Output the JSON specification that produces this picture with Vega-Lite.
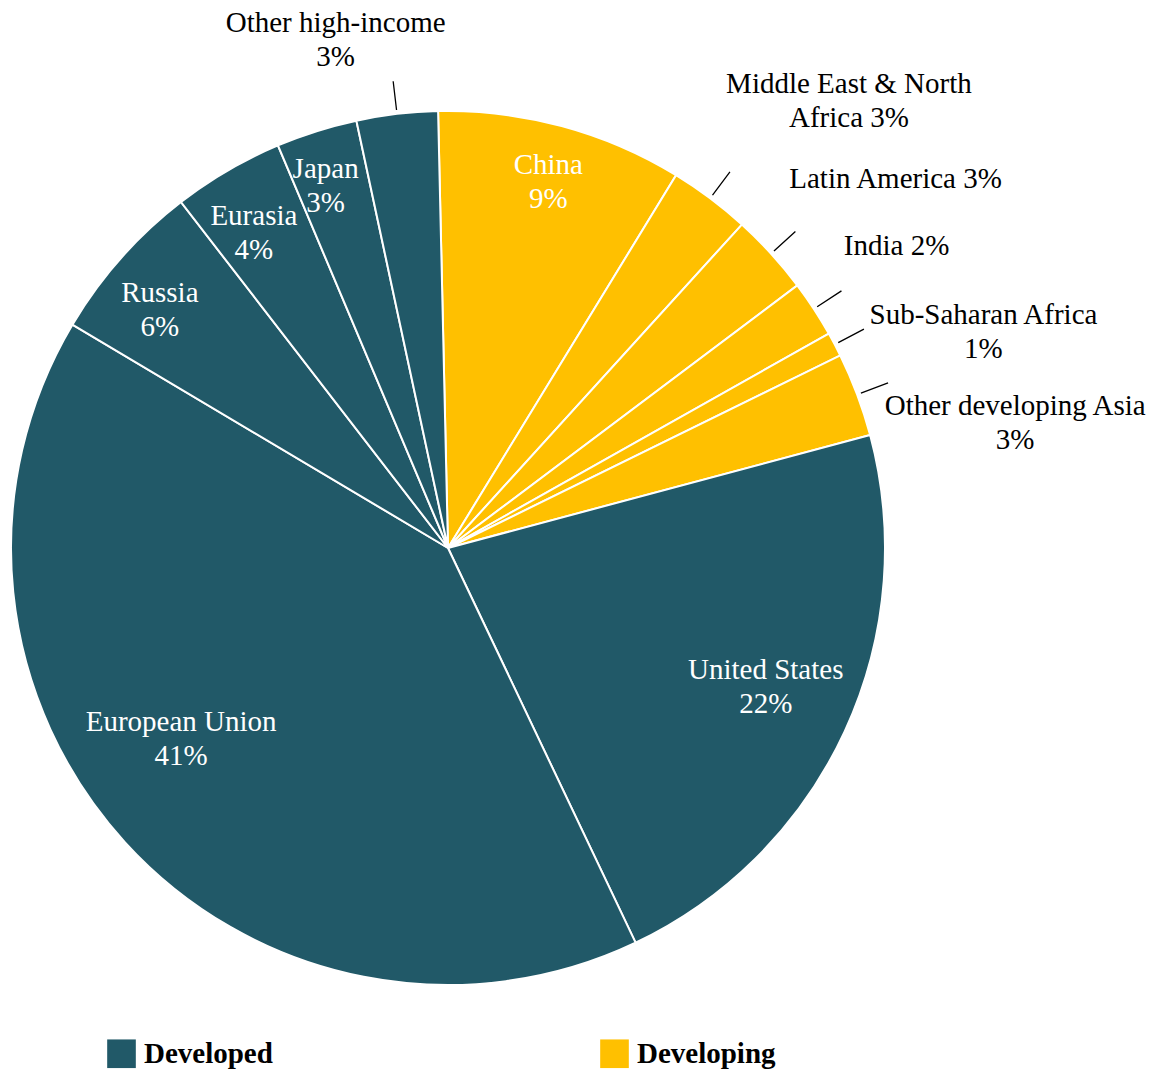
{
  "$schema": "https://vega.github.io/schema/vega-lite/v6.json",
  "width": 896,
  "height": 1046,
  "autosize": {"type": "none"},
  "padding": {"left": 0, "top": 25, "right": 272, "bottom": 0},
  "background": "white",
  "config": {
    "view": {"stroke": null},
    "font": "Liberation Serif",
    "text": {"font": "Liberation Serif", "fontSize": 29, "lineHeight": 34}
  },
  "data": {
    "values": [
      {"idx": 1, "region": "China", "group": "Developing", "share": 9.1, "label": ["China", "9%"]},
      {"idx": 2, "region": "Middle East & North Africa", "group": "Developing", "share": 3.0, "label": ["Middle East & North", "Africa 3%"]},
      {"idx": 3, "region": "Latin America", "group": "Developing", "share": 3.0, "label": ["Latin America 3%"]},
      {"idx": 4, "region": "India", "group": "Developing", "share": 2.1, "label": ["India 2%"]},
      {"idx": 5, "region": "Sub-Saharan Africa", "group": "Developing", "share": 0.9, "label": ["Sub-Saharan Africa", "1%"]},
      {"idx": 6, "region": "Other developing Asia", "group": "Developing", "share": 3.1, "label": ["Other developing Asia", "3%"]},
      {"idx": 7, "region": "United States", "group": "Developed", "share": 22.1, "label": ["United States", "22%"]},
      {"idx": 8, "region": "European Union", "group": "Developed", "share": 40.6, "label": ["European Union", "41%"]},
      {"idx": 9, "region": "Russia", "group": "Developed", "share": 6.0, "label": ["Russia", "6%"]},
      {"idx": 10, "region": "Eurasia", "group": "Developed", "share": 4.1, "label": ["Eurasia", "4%"]},
      {"idx": 11, "region": "Japan", "group": "Developed", "share": 3.0, "label": ["Japan", "3%"]},
      {"idx": 12, "region": "Other high-income", "group": "Developed", "share": 3.0, "label": ["Other high-income", "3%"]}
    ]
  },
  "encoding": {
    "theta": {"field": "share", "type": "quantitative", "stack": true, "scale": {"range": [-0.0227, 6.2605]}},
    "order": {"field": "idx", "type": "quantitative"}
  },
  "layer": [
    {
      "mark": {"type": "arc", "outerRadius": 437, "stroke": "white", "strokeWidth": 2},
      "encoding": {
        "color": {
          "field": "group",
          "type": "nominal",
          "scale": {"domain": ["Developed", "Developing"], "range": ["#215968", "#FFC000"]},
          "legend": {
            "title": null,
            "orient": "none",
            "legendX": 107,
            "legendY": 1014,
            "direction": "horizontal",
            "symbolType": "square",
            "symbolSize": 820,
            "symbolStrokeWidth": 0,
            "symbolOpacity": 1,
            "labelFont": "Liberation Serif",
            "labelFontSize": 29,
            "labelFontWeight": "bold",
            "labelColor": "black",
            "labelOffset": 8,
            "columnPadding": 327,
            "labelLimit": 400
          }
        }
      }
    },
    {
      "mark": {"type": "arc", "outerRadius": 470, "innerRadius": 441, "padAngle": 0.6, "fill": null, "strokeWidth": 1.3},
      "encoding": {
        "stroke": {"condition": {"test": "indexof(['Other high-income','Middle East & North Africa','Latin America','India','Sub-Saharan Africa','Other developing Asia'], datum.region) >= 0", "value": "black"}, "value": "transparent"}
      }
    },
    {
      "mark": {"type": "text", "radius": 397, "dx": -3, "color": "white", "align": "center", "baseline": "middle"},
      "encoding": {"text": {"condition": {"test": "indexof(['China','Japan'], datum.region) >= 0", "field": "label"}, "value": ""}}
    },
    {
      "mark": {"type": "text", "radius": 385, "color": "white", "align": "center", "baseline": "middle"},
      "encoding": {"text": {"condition": {"test": "indexof(['Russia','Eurasia'], datum.region) >= 0", "field": "label"}, "value": ""}}
    },
    {
      "mark": {"type": "text", "radius": 350, "dy": -25, "color": "white", "align": "center", "baseline": "middle"},
      "encoding": {"text": {"condition": {"test": "datum.region == 'United States'", "field": "label"}, "value": ""}}
    },
    {
      "mark": {"type": "text", "radius": 361, "dy": -69, "color": "white", "align": "center", "baseline": "middle"},
      "encoding": {"text": {"condition": {"test": "datum.region == 'European Union'", "field": "label"}, "value": ""}}
    },
    {
      "mark": {"type": "text", "radius": 500, "dx": -54, "dy": -28, "color": "black", "align": "center", "baseline": "middle"},
      "encoding": {"text": {"condition": {"test": "datum.region == 'Other high-income'", "field": "label"}, "value": ""}}
    },
    {
      "mark": {"type": "text", "radius": 500, "dx": 101, "dy": -64, "color": "black", "align": "center", "baseline": "middle"},
      "encoding": {"text": {"condition": {"test": "datum.region == 'Middle East & North Africa'", "field": "label"}, "value": ""}}
    },
    {
      "mark": {"type": "text", "radius": 500, "dx": 78, "dy": -32, "color": "black", "align": "center", "baseline": "middle"},
      "encoding": {"text": {"condition": {"test": "datum.region == 'Latin America'", "field": "label"}, "value": ""}}
    },
    {
      "mark": {"type": "text", "radius": 500, "dx": 30, "dy": -29, "color": "black", "align": "center", "baseline": "middle"},
      "encoding": {"text": {"condition": {"test": "datum.region == 'India'", "field": "label"}, "value": ""}}
    },
    {
      "mark": {"type": "text", "radius": 500, "dx": 93, "dy": 0, "color": "black", "align": "center", "baseline": "middle"},
      "encoding": {"text": {"condition": {"test": "datum.region == 'Sub-Saharan Africa'", "field": "label"}, "value": ""}}
    },
    {
      "mark": {"type": "text", "radius": 500, "dx": 99, "dy": 34, "color": "black", "align": "center", "baseline": "middle"},
      "encoding": {"text": {"condition": {"test": "datum.region == 'Other developing Asia'", "field": "label"}, "value": ""}}
    }
  ]
}
